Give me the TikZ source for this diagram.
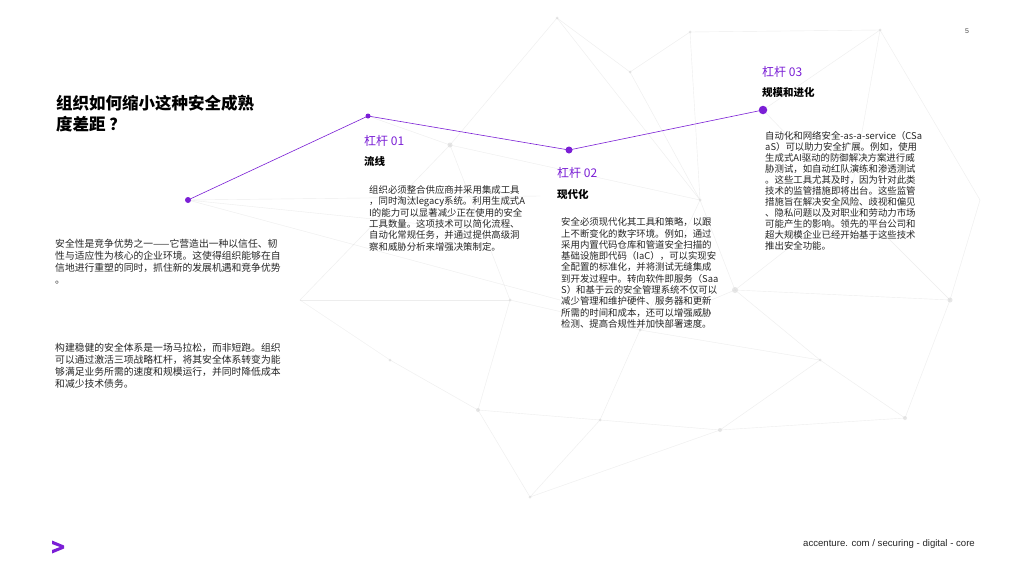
\documentclass[tikz,border=0pt]{standalone}
\usepackage{fontspec}
\setmainfont{Liberation Sans}
\newfontfamily\cjk{Noto Sans CJK SC}
\definecolor{accpurple}{HTML}{7B1FD6}
\definecolor{netgray}{HTML}{D8D8D8}
\begin{document}
\begin{tikzpicture}[x=1pt,y=-1pt,
  body/.style={font=\cjk\fontsize{9.4}{11.3}\selectfont, align=left, anchor=north west, inner sep=0pt, text=black!85},
  lbody/.style={font=\cjk\fontsize{9.8}{12}\selectfont, align=left, anchor=north west, inner sep=0pt, text=black!85},
  lever/.style={font=\cjk\fontsize{12}{14}\selectfont, text=accpurple, anchor=west, inner sep=0pt},
  lhead/.style={font=\cjk\bfseries\fontsize{10.5}{13}\selectfont, anchor=west, inner sep=0pt},
  pline/.style={draw=accpurple, line width=0.6pt},
  pdot/.style={circle, fill=accpurple, inner sep=0pt},
  net/.style={draw=netgray, line width=0.4pt, opacity=0.45},
  ndot/.style={circle, fill=netgray, inner sep=0pt, opacity=0.6}
]
\useasboundingbox (0,0) rectangle (1024,576);
\fill[white] (0,0) rectangle (1024,576);

% faint background network
\foreach \n/\x/\y in {a/557/18, b/450/145, c/735/290, d/905/418, e/720/430, f/478/410, g/530/497, h/950/300, i/630/72, j/690/32, k/880/30, l/300/300, m/640/330, n/820/360, o/600/420, p/390/360, q/980/200, r/850/200, s/510/300, t/700/200}
  \coordinate (\n) at (\x,\y);
\foreach \u/\v in {a/b, a/i, a/t, i/j, j/k, k/q, b/s, b/l, s/m, m/c, c/h, h/d, d/e, e/o, o/f, f/p, p/l, f/g, g/o, g/e, m/o, c/n, n/d, n/e, r/h, r/c, t/c, t/m, i/t, q/h, s/f, b/t, l/s, j/t, k/r, m/n}
  \draw[net] (\u) -- (\v);
\foreach \n/\r in {a/1.5, b/2.5, c/3, d/2, e/2, f/2, g/1.5, h/2.5, i/1.5, j/1.5, k/1.5, m/1.5, n/1.5, o/1.5, p/1.5, r/1.5, s/1.5, t/1.5}
  \node[ndot, minimum size=2*\r pt] at (\n) {};
\draw[net] (188,200) -- (560,300);
\draw[net] (188,200) -- (480,230);
\draw[net] (188,200) -- (540,196);
\draw[net] (368,116) -- (450,145);
\draw[net] (763,110) -- (880,30);
\draw[net] (763,110) -- (850,200);

% purple lever path
\coordinate (p0) at (188,200);
\coordinate (p1) at (368,116);
\coordinate (p2) at (569,150);
\coordinate (p3) at (763,110);
\draw[pline] (p0) -- (p1) -- (p2) -- (p3);
\node[pdot, minimum size=6pt] (d0) at (p0) {};
\node[pdot, minimum size=5pt] (d1) at (p1) {};
\node[pdot, minimum size=7pt] (d2) at (p2) {};
\node[pdot, minimum size=8.5pt] (d3) at (p3) {};

% title
\node[font=\cjk\bfseries\fontsize{16.5}{21}\selectfont, align=left, anchor=north west, inner sep=0pt] (title) at (56,95) {组织如何缩小这种安全成熟\\度差距 ？};

% left paragraphs
\node[lbody] (left1) at (55,238.5) {安全性是竞争优势之一——它营造出一种以信任、韧\\性与适应性为核心的企业环境。这使得组织能够在自\\信地进行重塑的同时，抓住新的发展机遇和竞争优势\\。};
\node[lbody] (left2) at (55,342.5) {构建稳健的安全体系是一场马拉松，而非短跑。组织\\可以通过激活三项战略杠杆，将其安全体系转变为能\\够满足业务所需的速度和规模运行，并同时降低成本\\和减少技术债务。};

% lever 01
\node[lever] (l1) at (364,141) {杠杆 01};
\node[lhead] (h1) at (364,161) {流线};
\node[body] (b1) at (369,185.5) {组织必须整合供应商并采用集成工具\\，同时淘汰legacy系统。利用生成式A\\I的能力可以显著减少正在使用的安全\\工具数量。这项技术可以简化流程、\\自动化常规任务，并通过提供高级洞\\察和威胁分析来增强决策制定。};

% lever 02
\node[lever] (l2) at (557,173) {杠杆 02};
\node[lhead] (h2) at (557,194) {现代化};
\node[body] (b2) at (561,217.5) {安全必须现代化其工具和策略，以跟\\上不断变化的数字环境。例如，通过\\采用内置代码仓库和管道安全扫描的\\基础设施即代码（IaC），可以实现安\\全配置的标准化，并将测试无缝集成\\到开发过程中。转向软件即服务（Saa\\S）和基于云的安全管理系统不仅可以\\减少管理和维护硬件、服务器和更新\\所需的时间和成本，还可以增强威胁\\检测、提高合规性并加快部署速度。};

% lever 03
\node[body, font=\cjk\fontsize{9.4}{11}\selectfont] (b3) at (765,131.5) {自动化和网络安全-as-a-service（CSa\\aS）可以助力安全扩展。例如，使用\\生成式AI驱动的防御解决方案进行威\\胁测试，如自动红队演练和渗透测试\\。这些工具尤其及时，因为针对此类\\技术的监管措施即将出台。这些监管\\措施旨在解决安全风险、歧视和偏见\\、隐私问题以及对职业和劳动力市场\\可能产生的影响。领先的平台公司和\\超大规模企业已经开始基于这些技术\\推出安全功能。};
\node[lever] (l3) at (762,72) {杠杆 03};
\node[lhead] (h3) at (762,93) {规模和进化};

% footer
\node[font=\fontsize{9.6}{11}\selectfont, anchor=west, inner sep=0pt, text=black!85] (foot) at (803,544) {accenture. com / securing - digital - core};
\node[font=\fontsize{7}{8}\selectfont, inner sep=0pt, text=black!70] (pnum) at (967,31) {5};

% logo
\fill[accpurple] (52,540.5) -- (64,545.5) -- (64,548.5) -- (52,553.5) -- (52,550) -- (60,547) -- (52,544) -- cycle;
\end{tikzpicture}
\end{document}
